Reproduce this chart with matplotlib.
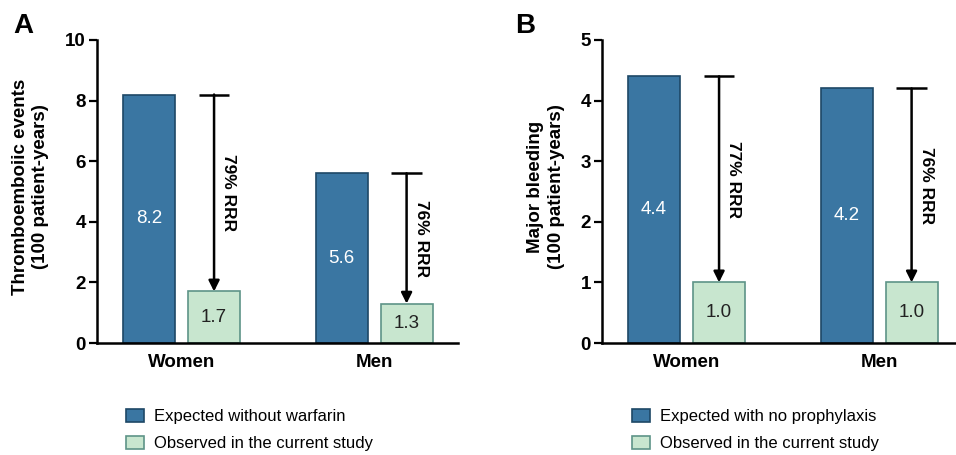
import matplotlib
matplotlib.use("Agg")
import matplotlib.pyplot as plt
from matplotlib.patches import Patch

plt.rcParams['font.family'] = ['Liberation Sans', 'DejaVu Sans']

groups = ["Women", "Men"]
# Panel A: thromboembolic events
a_expected = [8.2, 5.6]
a_observed = [1.7, 1.3]
a_rrr = ["79% RRR", "76% RRR"]
a_yticks = [0, 2, 4, 6, 8, 10]
# Panel B: major bleeding
b_expected = [4.4, 4.2]
b_observed = [1.0, 1.0]
b_rrr = ["77% RRR", "76% RRR"]
b_yticks = [0, 1, 2, 3, 4, 5]

BLUE = "#3a76a2"
BLUE_EDGE = "#1e4866"
GREEN = "#c8e6cf"
GREEN_EDGE = "#5e9488"

W, H = 956, 455
fig = plt.figure(figsize=(W / 100, H / 100), dpi=100)

def px_ax(left, right, top, bottom):
    return [left / W, 1 - bottom / H, (right - left) / W, (bottom - top) / H]

def panel(ax, expected, observed, rrr, yticks, ylabel, legend_lbl, leg_x, ylab_x):
    xs = range(len(groups))
    off = 0.169
    bw = 0.27
    for i in xs:
        ax.bar(i - off, expected[i], width=bw, color=BLUE, edgecolor=BLUE_EDGE, linewidth=1.2, zorder=2)
        ax.bar(i + off, observed[i], width=bw, color=GREEN, edgecolor=GREEN_EDGE, linewidth=1.2, zorder=2)
        ax.text(i - off, expected[i] / 2, f"{expected[i]:.1f}", color="white", fontsize=13.5,
                ha="center", va="center", zorder=3)
        ax.text(i + off, observed[i] / 2, f"{observed[i]:.1f}", color="#222222", fontsize=13.5,
                ha="center", va="center", zorder=3)
        ax_x = i + off
        top = expected[i]
        ax.annotate("", xy=(ax_x, observed[i]), xytext=(ax_x, top),
                    arrowprops=dict(arrowstyle="-|>", lw=1.8, color="black",
                                    mutation_scale=16, shrinkA=0, shrinkB=0), zorder=4)
        ax.hlines(top, ax_x - 0.08, ax_x + 0.08, color="black", lw=1.8, zorder=4)
        ax.annotate(rrr[i], xy=(ax_x, (top + observed[i]) / 2), xytext=(10.5, 0),
                    textcoords="offset points", rotation=-90, ha="center", va="center",
                    fontsize=12.5, fontweight="bold")
    ax.set_xlim(-0.439, 1.436)
    ax.set_ylim(yticks[0], yticks[-1])
    ax.set_yticks(yticks)
    ax.set_xticks(list(xs))
    ax.set_xticklabels(groups, fontsize=13.5, fontweight="bold")
    for lbl in ax.get_yticklabels():
        lbl.set_fontsize(13.5)
        lbl.set_fontweight("bold")
    ax.tick_params(axis="x", length=0, pad=8)
    ax.tick_params(axis="y", length=6, width=1.6, direction="out", pad=2)
    for s in ["top", "right"]:
        ax.spines[s].set_visible(False)
    for s in ["left", "bottom"]:
        ax.spines[s].set_linewidth(1.8)
    ax.set_ylabel(ylabel, fontsize=13.5, fontweight="bold", linespacing=1.3, va="center")
    ax.yaxis.set_label_coords(ylab_x, 0.515)
    handles = [Patch(facecolor=BLUE, edgecolor=BLUE_EDGE, lw=1.2),
               Patch(facecolor=GREEN, edgecolor=GREEN_EDGE, lw=1.2)]
    fig.legend(handles, [legend_lbl, "Observed in the current study"], loc="center left",
               bbox_to_anchor=(leg_x, 1 - 430 / H), frameon=False, fontsize=12,
               handlelength=1.1, handleheight=0.85, handletextpad=0.6,
               labelspacing=0.7, borderpad=0, borderaxespad=0)

axA = fig.add_axes(px_ax(97, 458, 40, 343))
panel(axA, a_expected, a_observed, a_rrr, a_yticks,
      "Thromboemboiic events\n(100 patient-years)", "Expected without warfarin",
      126 / W, (30.5 - 97) / 361)

axB = fig.add_axes(px_ax(602, 963, 40, 343))
panel(axB, b_expected, b_observed, b_rrr, b_yticks,
      "Major bleeding\n(100 patient-years)", "Expected with no prophylaxis",
      632 / W, (546 - 602) / 361)

fig.text(13 / W, 1 - 33 / H, "A", fontsize=20, fontweight="bold", va="baseline", ha="left")
fig.text(515 / W, 1 - 33 / H, "B", fontsize=20, fontweight="bold", va="baseline", ha="left")

fig.savefig("out.png", dpi=100)
